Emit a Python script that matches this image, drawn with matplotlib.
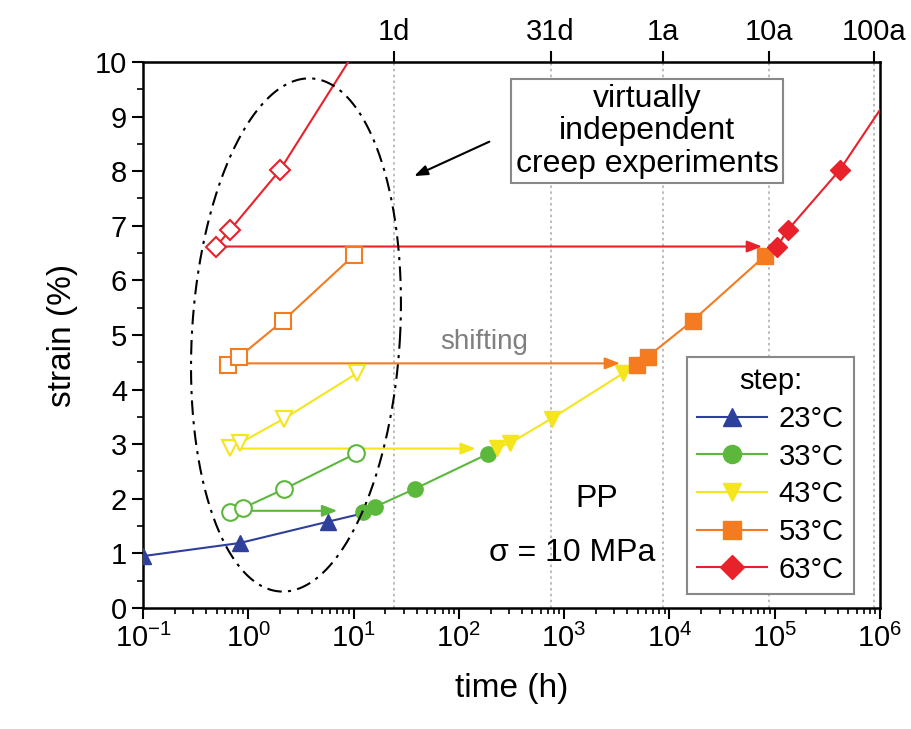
import numpy as np
import matplotlib
matplotlib.use("Agg")
import matplotlib.pyplot as plt
from matplotlib.lines import Line2D
from matplotlib.ticker import LogLocator, MultipleLocator, NullLocator, NullFormatter

plt.rcParams['font.family'] = ['Liberation Sans', 'DejaVu Sans']
plt.rcParams['mathtext.default'] = 'regular'

# --- data: time (h), strain (%) ---
labels = ['23°C', '33°C', '43°C', '53°C', '63°C']
colors = ['#2f3f9c', '#5cb83c', '#f4e51c', '#f47b20', '#e8212b']
markers = ['^', 'o', 'v', 's', 'D']

# measured (open symbols, short-term tests)
t_open = [None,
          [0.67, 0.89, 2.2, 10.5],
          [0.67, 0.83, 2.2, 10.8],
          [0.64, 0.82, 2.14, 10.2],
          [0.49, 0.67, 2.0]]
e_open = [None,
          [1.76, 1.83, 2.18, 2.83],
          [2.93, 3.02, 3.47, 4.30],
          [4.45, 4.60, 5.26, 6.47],
          [6.61, 6.92, 8.02]]

# shifted (filled symbols, master curve)
t_master = [[0.1, 0.83, 5.7],
            [12.3, 15.9, 38, 188],
            [229, 307, 760, 3650],
            [4900, 6200, 16600, 81000],
            [105000, 133000, 415000]]
e_master = [[0.95, 1.19, 1.58],
            [1.76, 1.85, 2.18, 2.82],
            [2.93, 3.02, 3.47, 4.30],
            [4.45, 4.60, 5.26, 6.45],
            [6.61, 6.92, 8.02]]

# curve continuations beyond the last symbol
blue_ext = ([11.5], [1.72])
red_open_ext = ([8.9], [10.0])
red_master_ext = ([1.0e6], [9.12])

# horizontal shift arrows: (start t, end t, strain)
arrow_t0 = [0.8, 0.8, 0.8, 0.6]
arrow_t1 = [7.0, 145, 3400, 76000]
arrow_e = [1.78, 2.92, 4.48, 6.62]

# top axis: time scale marks
top_ticks = [24, 744, 8760, 87600, 876000]
top_labels = ['1d', '31d', '1a', '10a', '100a']

fig = plt.figure(figsize=(9.12, 7.29), dpi=100)
ax = fig.add_axes([0.1568, 0.166, 0.808, 0.749])
ax.set_xscale('log')
ax.set_xlim(0.1, 1e6)
ax.set_ylim(0, 10)

for tt in top_ticks:
    ax.axvline(tt, color='#b0b0b0', ls=(0, (1.5, 2)), lw=1.2, zorder=0)

# shift arrows
for i in range(4):
    c = colors[i + 1]
    ax.annotate('', xy=(arrow_t1[i], arrow_e[i]), xytext=(arrow_t0[i], arrow_e[i]),
                arrowprops=dict(arrowstyle='-|>,head_length=0.9,head_width=0.35',
                                color=c, lw=1.5, shrinkA=0, shrinkB=0), zorder=2)

# master curve (filled)
for i in range(5):
    tx = list(t_master[i])
    ey = list(e_master[i])
    if i == 0:
        tx += blue_ext[0]
        ey += blue_ext[1]
    if i == 4:
        tx += red_master_ext[0]
        ey += red_master_ext[1]
    ax.plot(tx, ey, '-', color=colors[i], lw=1.5, zorder=3)
    ax.plot(t_master[i], e_master[i], ls='none', marker=markers[i],
            ms=11 if markers[i] != 'D' else 10, color=colors[i], mec=colors[i], zorder=4)

# short-term tests (open)
for i in range(1, 5):
    tx = list(t_open[i])
    ey = list(e_open[i])
    if i == 4:
        tx += red_open_ext[0]
        ey += red_open_ext[1]
    ax.plot(tx, ey, '-', color=colors[i], lw=1.5, zorder=3)
    ax.plot(t_open[i], e_open[i], ls='none', marker=markers[i],
            ms=12 if markers[i] != 'D' else 10, mfc='white', mec=colors[i], mew=1.5, zorder=4)

# ellipse around independent tests (in pixel-like axes units)
W, H = 737.0, 546.0
cx, cy = 153.0, 273.0
a, b = 257.0, 104.0
th = np.deg2rad(3.5)
s = np.linspace(0, 2 * np.pi, 400)
ux = b * np.cos(s)
uy = a * np.sin(s)
px = cx + ux * np.cos(th) + uy * np.sin(th)
py = cy - ux * np.sin(th) + uy * np.cos(th)
ax.plot(px / W, py / H, color='black', lw=1.5, ls=(0, (7, 3, 1.5, 3)),
        transform=ax.transAxes, zorder=5)

ax.annotate('', xy=(0.368, 0.791), xytext=(0.47, 0.854), xycoords='axes fraction',
            arrowprops=dict(arrowstyle='-|>,head_length=0.8,head_width=0.3',
                            color='black', lw=1.5, shrinkA=0, shrinkB=0))

ax.text(0.684, 0.873, 'virtually\nindependent\ncreep experiments', transform=ax.transAxes,
        ha='center', va='center', fontsize=23, linespacing=1.1,
        bbox=dict(boxstyle='square,pad=0.15', fc='white', ec='#888888', lw=1.5), zorder=6)
ax.text(0.463, 0.487, 'shifting', transform=ax.transAxes, ha='center', va='center',
        fontsize=20, color='#7f7f7f')
ax.text(0.616, 0.2, 'PP', transform=ax.transAxes, ha='center', va='center', fontsize=23)
ax.text(0.583, 0.1, 'σ = 10 MPa', transform=ax.transAxes, ha='center', va='center', fontsize=23)

# ticks
ax.xaxis.set_major_locator(LogLocator(base=10, numticks=20))
ax.xaxis.set_minor_locator(LogLocator(base=10, subs=np.arange(2, 10), numticks=20))
ax.xaxis.set_minor_formatter(NullFormatter())
ax.yaxis.set_major_locator(MultipleLocator(1))
ax.yaxis.set_minor_locator(MultipleLocator(0.5))
ax.tick_params(which='major', length=8, width=1.5, labelsize=21, right=False, top=False)
ax.tick_params(which='minor', length=4, width=1.2, right=False, top=False)
for sp in ax.spines.values():
    sp.set_linewidth(1.8)

top = ax.secondary_xaxis('top')
top.set_xticks(top_ticks)
top.set_xticklabels(top_labels)
top.xaxis.set_minor_locator(NullLocator())
top.tick_params(length=8, width=1.5, labelsize=21)

ax.set_xlabel('time (h)', fontsize=24, labelpad=14)
ax.set_ylabel('strain (%)', fontsize=24, labelpad=12)

handles = [Line2D([], [], color=colors[i], marker=markers[i], lw=1.5,
                  ms=13 if markers[i] != 'D' else 12) for i in range(5)]
leg = ax.legend(handles, labels, title='step:', loc='lower right',
                bbox_to_anchor=(0.965, 0.026), borderaxespad=0, fontsize=21, title_fontsize=21,
                fancybox=False, edgecolor='#888888', framealpha=1, handlelength=2.4,
                labelspacing=0.33, handletextpad=0.4, borderpad=0.35)
leg.get_frame().set_linewidth(1.5)
leg.set_zorder(7)

fig.savefig('out.png', dpi=100)
